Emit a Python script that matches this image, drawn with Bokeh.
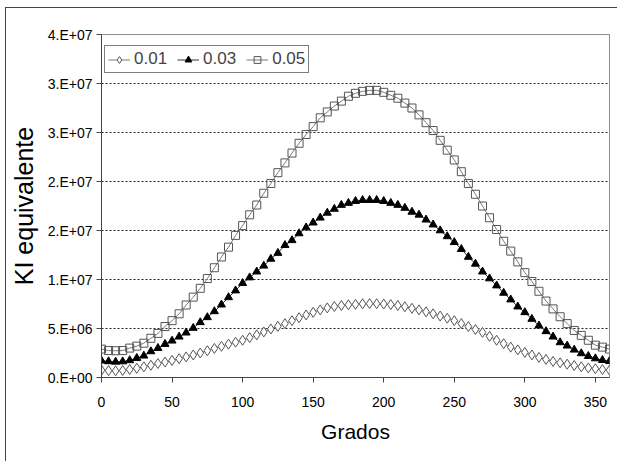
from bokeh.plotting import figure
from bokeh.models import FixedTicker, Legend, LegendItem, ColumnDataSource, InlineStyleSheet
from bokeh.embed import file_html
from bokeh.resources import INLINE

# ---- data (values in millions, KI equivalente) ----
grados = list(range(0, 365, 5))

serie_001 = [0.75, 0.70, 0.68, 0.72, 0.82, 0.94, 1.09, 1.25, 1.43, 1.58,
             1.74, 1.92, 2.10, 2.30, 2.50, 2.73, 2.97, 3.18, 3.40, 3.60,
             3.80, 4.07, 4.35, 4.65, 4.95, 5.22, 5.50, 5.80, 6.10, 6.38,
             6.65, 6.90, 7.10, 7.25, 7.35, 7.42, 7.47, 7.52, 7.54, 7.53,
             7.50, 7.44, 7.35, 7.22, 7.06, 6.90, 6.70, 6.50, 6.27, 6.05,
             5.80, 5.50, 5.20, 4.90, 4.60, 4.20, 3.80, 3.45, 3.10, 2.82,
             2.56, 2.30, 2.05, 1.84, 1.64, 1.50, 1.36, 1.22, 1.09, 0.98,
             0.89, 0.81, 0.75]

serie_003 = [1.71, 1.64, 1.60, 1.63, 1.75, 1.98, 2.22, 2.66, 3.00, 3.41,
             3.75, 4.16, 4.57, 5.05, 5.63, 6.14, 6.75, 7.43, 8.18, 8.87,
             9.62, 10.2, 10.8, 11.4, 12.1, 12.7, 13.5, 14.0, 14.7, 15.3,
             15.8, 16.3, 16.8, 17.2, 17.6, 17.8, 18.0, 18.1, 18.1, 18.1,
             18.0, 17.8, 17.6, 17.3, 16.9, 16.6, 16.1, 15.6, 15.0, 14.4,
             13.8, 13.1, 12.3, 11.6, 10.8, 10.1, 9.38, 8.63, 7.95, 7.23,
             6.65, 5.97, 5.29, 4.71, 4.16, 3.58, 3.24, 2.83, 2.46, 2.18,
             1.94, 1.77, 1.67]

serie_005 = [2.90, 2.75, 2.73, 2.75, 3.00, 3.20, 3.50, 4.00, 4.50, 5.20,
             5.80, 6.50, 7.40, 8.20, 9.10, 10.1, 11.2, 12.3, 13.3, 14.5,
             15.5, 16.6, 17.6, 18.8, 19.8, 20.9, 21.9, 22.9, 23.9, 24.8,
             25.6, 26.5, 27.1, 27.7, 28.2, 28.7, 29.0, 29.2, 29.3, 29.3,
             29.1, 28.8, 28.5, 28.0, 27.5, 26.8, 26.0, 25.2, 24.2, 23.2,
             22.2, 21.0, 19.8, 18.7, 17.5, 16.3, 15.1, 13.9, 12.9, 11.8,
             10.7, 9.80, 8.80, 7.80, 7.00, 6.20, 5.50, 4.80, 4.30, 3.80,
             3.30, 3.10, 2.90]

series_labels = ["0.01", "0.03", "0.05"]

x_ticks = [0, 50, 100, 150, 200, 250, 300, 350]
y_ticks = [0, 5e6, 1e7, 1.5e7, 2e7, 2.5e7, 3e7, 3.5e7]
y_tick_labels = ["0.E+00", "5.E+06", "1.E+07", "2.E+07", "2.E+07", "3.E+07", "3.E+07", "4.E+07"]

FONT = "Liberation Sans"

src = ColumnDataSource(dict(
    x=grados,
    a=[v * 1e6 for v in serie_001],
    b=[v * 1e6 for v in serie_003],
    c=[v * 1e6 for v in serie_005],
))

# chart-area border: only its left and top edges fall inside the picture
border_css = InlineStyleSheet(css="""
:host::after {
  content: "";
  position: absolute;
  left: 5px; top: 7px; width: 612px; height: 454px;
  border-left: 1px solid #444444;
  border-top: 1px solid #444444;
  box-sizing: border-box;
  pointer-events: none;
  z-index: 10;
}
""")

p = figure(width=622, height=462, output_backend="svg", toolbar_location=None,
           x_range=(0, 360), y_range=(0, 3.5e7),
           min_border_left=101, min_border_right=13, min_border_top=34, min_border_bottom=85,
           stylesheets=[border_css])

p.background_fill_color = "white"
p.border_fill_color = "white"
p.outline_line_color = "#8c8c8c"
p.outline_line_width = 1

# grid
p.xgrid.visible = False
p.ygrid.ticker = FixedTicker(ticks=y_ticks[1:-1])
p.ygrid.grid_line_color = "#222222"
p.ygrid.grid_line_dash = "2 2"
p.ygrid.grid_line_width = 1

# axes
p.xaxis.ticker = FixedTicker(ticks=x_ticks)
p.yaxis.ticker = FixedTicker(ticks=y_ticks)
p.yaxis.major_label_overrides = {t: l for t, l in zip(y_ticks, y_tick_labels)}
for ax in (p.xaxis[0], p.yaxis[0]):
    ax.axis_line_color = "#444444"
    ax.major_tick_line_color = "#444444"
    ax.minor_tick_line_color = None
    ax.major_tick_out = 5
    ax.major_tick_in = 0
    ax.major_label_text_font = FONT
    ax.major_label_text_font_size = "14px"
    ax.major_label_text_color = "black"
    ax.axis_label_text_font = FONT
    ax.axis_label_text_font_style = "normal"
    ax.axis_label_text_color = "black"
p.xaxis.axis_label = "Grados"
p.yaxis.axis_label = "KI equivalente"
p.xaxis.axis_label_text_font_size = "21px"
p.yaxis.axis_label_text_font_size = "25px"
p.xaxis.major_label_standoff = 14
p.xaxis.axis_label_standoff = 10
p.yaxis.major_label_standoff = 4
p.yaxis.axis_label_standoff = 7

# series
line_col = "#7a7a7a"
l1 = p.line("x", "a", source=src, line_color=line_col, line_width=1)
s1 = p.scatter("x", "a", source=src, marker="diamond", size=10,
               fill_color="white", line_color="#555555", line_width=1)
l2 = p.line("x", "b", source=src, line_color="#333333", line_width=1)
s2 = p.scatter("x", "b", source=src, marker="triangle", size=8,
               fill_color="black", line_color="black", line_width=1)
l3 = p.line("x", "c", source=src, line_color=line_col, line_width=1)
s3 = p.scatter("x", "c", source=src, marker="square", size=8,
               fill_alpha=0, line_color="#555555", line_width=1)

legend = Legend(items=[LegendItem(label=series_labels[0], renderers=[l1, s1]),
                       LegendItem(label=series_labels[1], renderers=[l2, s2]),
                       LegendItem(label=series_labels[2], renderers=[l3, s3])],
                orientation="horizontal", location=(3, 304),
                border_line_color="black", border_line_width=1,
                background_fill_color="white", background_fill_alpha=1,
                label_text_font=FONT, label_text_font_size="17px",
                padding=3, spacing=10, margin=0,
                glyph_width=22, glyph_height=17, label_standoff=4,
                label_height=17)
p.add_layout(legend)

open("out.html", "w").write(file_html(p, INLINE))
